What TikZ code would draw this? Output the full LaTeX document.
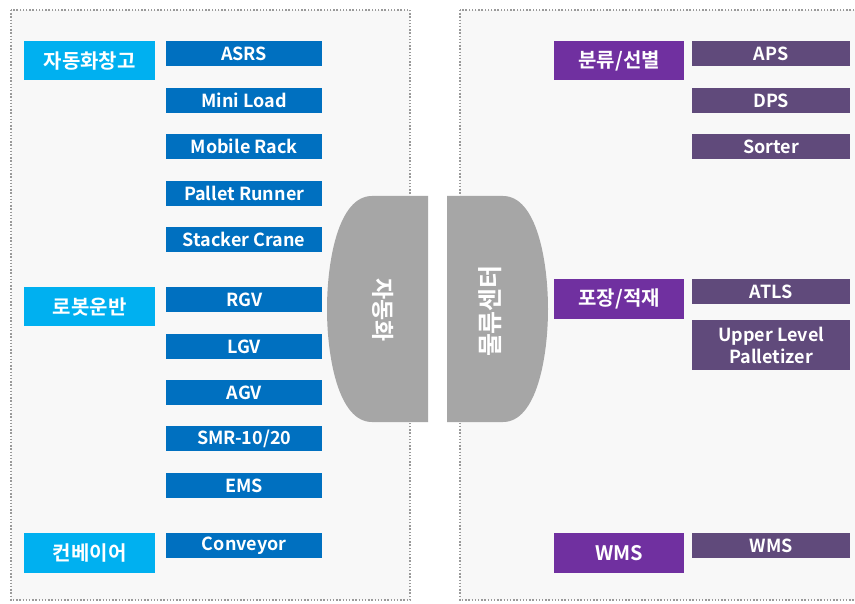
\documentclass[tikz,border=0pt]{standalone}
\usepackage{fontspec}
\setmainfont{Noto Sans CJK KR}[BoldFont={* Bold}]
\begin{document}
\begin{tikzpicture}[x=1pt,y=-1pt,
  cat/.style={fill=#1, text=white, font=\bfseries\fontsize{20}{22}\selectfont, inner sep=0pt, anchor=north west},
  item/.style={fill=#1, text=white, font=\bfseries\fontsize{18}{19}\selectfont, inner sep=0pt, anchor=north west, align=center},
  panel/.style={fill=panelbg, draw=dotgray, line width=1.6pt, dash pattern=on 1.4pt off 1.8pt},
  half/.style={fill=shapegray},
  halftext/.style={text=white, font=\bfseries\fontsize{23}{25}\selectfont}
]
\definecolor{panelbg}{HTML}{F8F8F8}
\definecolor{dotgray}{HTML}{9A9A9A}
\definecolor{shapegray}{HTML}{A6A6A6}
\definecolor{catblue}{HTML}{00B0F0}
\definecolor{itemblue}{HTML}{0070C0}
\definecolor{catpurple}{HTML}{7030A0}
\definecolor{itempurple}{HTML}{604A7B}
\useasboundingbox (0,0) rectangle (855,604);
\clip (0,0) rectangle (855,604);
\fill[white] (0,0) rectangle (855,604);
% panels
\draw[panel] (11,10) rectangle (410,600);
\draw[panel] (460,10) rectangle (875,600);
% left categories
\node[cat=catblue, minimum width=131pt, minimum height=39pt] (c1) at (24,41) {자동화창고};
\node[cat=catblue, minimum width=131pt, minimum height=39pt] (c2) at (24,287) {로봇운반};
\node[cat=catblue, minimum width=131pt, minimum height=40pt] (c3) at (24,533) {컨베이어};
% left items
\foreach \t/\y/\n in {ASRS/41/i1, Mini Load/88/i2, Mobile Rack/134/i3, Pallet Runner/181/i4, Stacker Crane/227/i5, RGV/287/i6, LGV/334/i7, AGV/380/i8, SMR-10\slash 20/426/i9, EMS/473/i10, Conveyor/533/i11}
  \node[item=itemblue, minimum width=156pt, minimum height=25pt] (\n) at (166,\y) {\t};
% right categories
\node[cat=catpurple, minimum width=130pt, minimum height=39pt] (p1) at (554,41) {분류/선별};
\node[cat=catpurple, minimum width=130pt, minimum height=40pt] (p2) at (554,279) {포장/적재};
\node[cat=catpurple, minimum width=130pt, minimum height=40pt] (p3) at (554,533) {WMS};
% right items
\foreach \t/\y/\n in {APS/41/j1, DPS/88/j2, Sorter/134/j3, ATLS/279/j4, WMS/533/j6}
  \node[item=itempurple, minimum width=158pt, minimum height=25pt] (\n) at (692,\y) {\t};
\node[item=itempurple, minimum width=158pt, minimum height=50pt, font=\bfseries\fontsize{18}{22}\selectfont] (j5) at (692,320) {Upper Level\\Palletizer};
% center halves
\fill[half] (428,196) -- (372,196) .. controls (338,196) and (327,262) .. (327,309)
  .. controls (327,356) and (338,422) .. (372,422) -- (428,422) -- cycle;
\fill[half] (447,196) -- (503,196) .. controls (537,196) and (548,262) .. (548,309)
  .. controls (548,356) and (537,422) .. (503,422) -- (447,422) -- cycle;
\node[halftext, rotate=-90] (h1) at (383,310) {자동화};
\node[halftext, rotate=90, font=\bfseries\fontsize{25}{27}\selectfont] (h2) at (490,311) {물류센터};
\end{tikzpicture}
\end{document}
